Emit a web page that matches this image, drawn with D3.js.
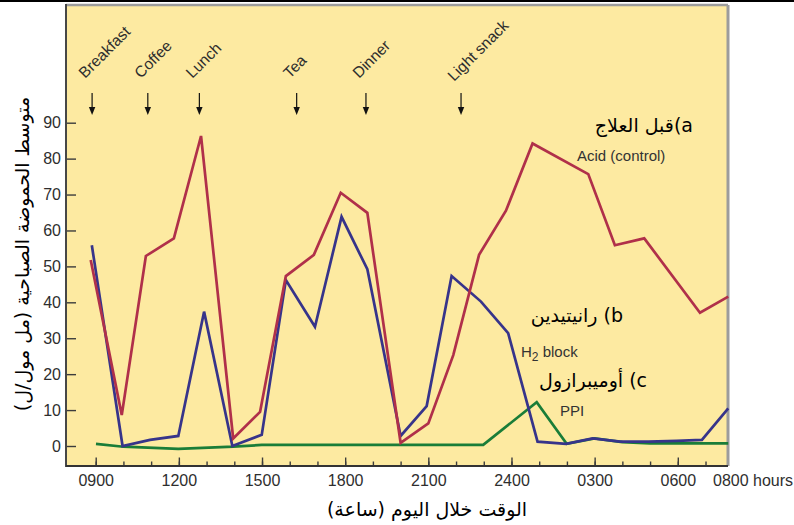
<!DOCTYPE html>
<html>
<head>
<meta charset="utf-8">
<script src="https://cdn.jsdelivr.net/npm/d3@7"></script>
<style>
    body { margin: 0; background: #ffffff; }
    svg { display: block; font-family: "Liberation Sans", Arial, sans-serif; }
</style>
</head>
<body>
<svg id="drawing_region"></svg>
<script>
// hours of the day (hours after midnight keep counting past 24), acidity in mmol/L
const acidHours  = [8.82, 9.94, 10.81, 11.82, 12.8, 13.96, 14.93, 15.86, 16.87, 17.84, 18.8, 20.0,
                    21.0, 21.9, 22.83, 23.8, 24.76, 26.77, 27.73, 28.79, 30.8, 31.82];
const acidValues = [51.8, 8.6, 52.9, 57.8, 86.3, 2.1, 9.5, 47.3, 53.2, 70.5, 64.9, 0.9,
                    6.3, 25.3, 53.2, 65.5, 84.2, 75.7, 55.9, 57.8, 37.1, 41.6];

const h2Hours  = [8.86, 9.97, 10.96, 11.98, 12.91, 13.93, 14.99, 15.86, 16.91, 17.87, 18.8, 20.0,
                  20.94, 21.84, 22.9, 23.88, 24.94, 25.97, 26.93, 27.92, 28.94, 29.96, 30.87, 31.82];
const h2Values = [55.9, 0, 1.7, 2.8, 37.4, 0, 3.1, 46.2, 33.2, 63.8, 49.2, 2.8,
                  11.1, 47.3, 40.2, 31.4, 1.2, 0.6, 2.1, 1.2, 1.2, 1.4, 1.7, 10.5];

const ppiHours  = [9.01, 10.0, 11.98, 13.96, 14.99, 22.98, 24.91, 25.99, 27.0, 28.0, 29.0, 31.82];
const ppiValues = [0.6, -0.2, -0.8, -0.2, 0.3, 0.3, 12.2, 0.6, 2.1, 1.1, 0.75, 0.75];

const meals     = ['Breakfast', 'Coffee', 'Lunch', 'Tea', 'Dinner', 'Light snack'];
const mealHours = [8.87, 10.88, 12.74, 16.25, 18.75, 22.18];

const xMinorTicks = d3.range(9, 32);
const xMajorTicks = [9, 12, 15, 18, 21, 24, 27, 30];
const xTickLabels = ['0900', '1200', '1500', '1800', '2100', '2400', '0300', '0600'];
const yTicks = [0, 10, 20, 30, 40, 50, 60, 70, 80, 90];

const width = 794, height = 525;
const margin = {top: 5, left: 66, right: 66, bottom: 59};
const inner_width = width - margin.left - margin.right;
const inner_height = height - margin.top - margin.bottom;

const svg = d3.select('#drawing_region')
    .attr('width', width)
    .attr('height', height);

svg.append('rect')
    .attr('x', 0).attr('y', 0)
    .attr('width', width).attr('height', 2)
    .attr('fill', '#000');

const chart = svg.append('g')
    .attr('transform', `translate(${margin.left}, ${margin.top})`);

const xscale = d3.scaleLinear()
    .domain([9, 30])
    .range([29.7, 611.8]);

const yscale = d3.scaleLinear()
    .domain([0, 90])
    .range([441, 117.7]);

// panel
chart.append('rect')
    .attr('width', inner_width)
    .attr('height', inner_height)
    .attr('fill', '#fdeaa1');

// axes, ticks point inward
const xminor = d3.axisBottom(xscale)
    .tickValues(xMinorTicks)
    .tickSize(-4.5)
    .tickFormat('');
const xmajor = d3.axisBottom(xscale)
    .tickValues(xMajorTicks)
    .tickSize(-8.5)
    .tickPadding(9)
    .tickFormat((d, i) => xTickLabels[i]);
const yaxis = d3.axisLeft(yscale)
    .tickValues(yTicks)
    .tickSize(-10)
    .tickPadding(5);

const xminor_group = chart.append('g')
    .attr('transform', `translate(0, ${inner_height})`)
    .call(xminor);
const xmajor_group = chart.append('g')
    .attr('transform', `translate(0, ${inner_height})`)
    .call(xmajor);
const yaxis_group = chart.append('g')
    .call(yaxis);

[xminor_group, xmajor_group, yaxis_group].forEach(g => {
    g.select('.domain').remove();
    g.selectAll('.tick line').attr('stroke', '#3c3c3c').attr('stroke-width', 1.4);
    g.selectAll('.tick text')
        .attr('fill', '#2e2e2e')
        .style('font-size', '16px')
        .style('font-family', '"Liberation Sans", Arial, sans-serif');
});

chart.append('text')
    .attr('x', inner_width - 15)
    .attr('y', inner_height + 9)
    .attr('dy', '0.71em')
    .attr('fill', '#2e2e2e')
    .style('font-size', '16px')
    .text('0800 hours');

// frame
chart.append('line')
    .attr('x1', 0).attr('x2', inner_width).attr('y1', 0).attr('y2', 0)
    .attr('stroke', '#9c9c9c').attr('stroke-width', 2.5);
chart.append('line')
    .attr('x1', inner_width).attr('x2', inner_width).attr('y1', 0).attr('y2', inner_height)
    .attr('stroke', '#9c9c9c').attr('stroke-width', 3);
chart.append('line')
    .attr('x1', 0).attr('x2', 0).attr('y1', -1).attr('y2', inner_height + 1)
    .attr('stroke', '#474747').attr('stroke-width', 2);
chart.append('line')
    .attr('x1', 0).attr('x2', inner_width).attr('y1', inner_height).attr('y2', inner_height)
    .attr('stroke', '#333').attr('stroke-width', 2);

// series
const line = d3.line()
    .x(d => xscale(d[0]))
    .y(d => yscale(d[1]));

const series = [
    {hours: ppiHours, values: ppiValues, color: '#1a7d38'},
    {hours: h2Hours, values: h2Values, color: '#37348a'},
    {hours: acidHours, values: acidValues, color: '#b0304a'}
];

chart.selectAll('path.series')
    .data(series)
    .enter()
    .append('path')
    .attr('class', 'series')
    .attr('d', s => line(s.hours.map((h, i) => [h, s.values[i]])))
    .attr('fill', 'none')
    .attr('stroke', s => s.color)
    .attr('stroke-width', 2.7);

// meal arrows and labels
const meal = chart.selectAll('g.meal')
    .data(meals)
    .enter()
    .append('g')
    .attr('class', 'meal')
    .attr('transform', (d, i) => `translate(${xscale(mealHours[i])}, 0)`);

meal.append('line')
    .attr('y1', 88).attr('y2', 104)
    .attr('stroke', '#111').attr('stroke-width', 1.2);
meal.append('path')
    .attr('d', 'M-3.2,102 L3.2,102 L0,110 Z')
    .attr('fill', '#111');
meal.append('text')
    .attr('transform', (d, i) => `translate(-7, ${i === 5 ? 77 : 74}) rotate(-45)`)
    .attr('fill', '#2e2e2e')
    .style('font-size', '15.5px')
    .text(d => d);

// series labels
const labels = svg.append('g');
labels.append('text')
    .attr('x', 693).attr('y', 132)
    .attr('direction', 'rtl')
    .attr('text-anchor', 'start')
    .style('font-family', '"DejaVu Sans", sans-serif')
    .style('font-size', '19px')
    .text('a)قبل العلاج');
labels.append('text')
    .attr('x', 577).attr('y', 161)
    .attr('fill', '#333')
    .style('font-size', '15px')
    .text('Acid (control)');
labels.append('text')
    .attr('x', 623).attr('y', 322)
    .attr('direction', 'rtl')
    .attr('text-anchor', 'start')
    .style('font-family', '"DejaVu Sans", sans-serif')
    .style('font-size', '19px')
    .text('b) رانيتيدين');
const h2 = labels.append('text')
    .attr('x', 521).attr('y', 357)
    .attr('fill', '#333')
    .style('font-size', '15px');
h2.append('tspan').text('H');
h2.append('tspan').attr('dy', 4).style('font-size', '12px').text('2');
h2.append('tspan').attr('dy', -4).text(' block');
labels.append('text')
    .attr('x', 647).attr('y', 387)
    .attr('direction', 'rtl')
    .attr('text-anchor', 'start')
    .style('font-family', '"DejaVu Sans", sans-serif')
    .style('font-size', '19px')
    .text('c) أوميبرازول');
labels.append('text')
    .attr('x', 560).attr('y', 416)
    .attr('fill', '#333')
    .style('font-size', '15px')
    .text('PPI');

// axis titles
svg.append('text')
    .attr('transform', 'translate(29, 254) rotate(-90)')
    .attr('direction', 'rtl')
    .attr('text-anchor', 'middle')
    .style('font-family', '"DejaVu Sans", sans-serif')
    .style('font-size', '19px')
    .text('متوسط الحموضة الصباحية (مل مول/ل)');
svg.append('text')
    .attr('x', 427).attr('y', 516)
    .attr('direction', 'rtl')
    .attr('text-anchor', 'middle')
    .style('font-family', '"DejaVu Sans", sans-serif')
    .style('font-size', '19px')
    .text('الوقت خلال اليوم (ساعة)');
</script>
</body>
</html>
